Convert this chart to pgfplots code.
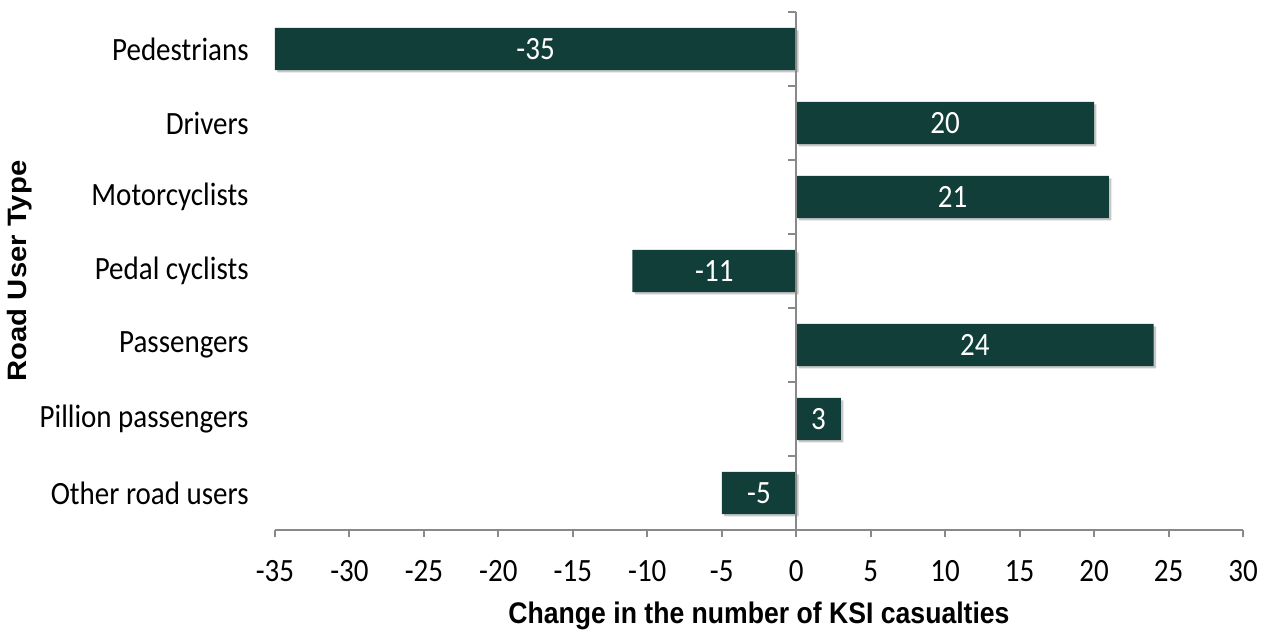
\documentclass[border=0pt]{standalone}
\usepackage{fontspec}
\setmainfont{Carlito}
\newfontfamily\titlefont{Liberation Sans}
\usepackage{graphicx}
\usepackage{pgfplots}
\usepackage{pgfplotstable}
\pgfplotsset{compat=1.18}
\usetikzlibrary{shadows}
\definecolor{barcol}{RGB}{18,62,57}
\definecolor{axisgray}{RGB}{137,137,137}

% Change in KSI casualties by road user type (row 0 at top)
\pgfplotstableread{
idx v
0 -35
1 20
2 21
3 -11
4 24
5 3
6 -5
}\ksi

\newcommand\lblfont{\fontsize{14.5}{17}\selectfont}
\newcommand\ttlfont{\titlefont\bfseries\fontsize{13.3}{15}\selectfont}
% slightly tall lettering
\newcommand\vs[1]{\scalebox{1}[1.12]{#1}}

\begin{document}
\begin{tikzpicture}[x=1pt,y=1pt]
\useasboundingbox (-137.5,-50) rectangle (497,265);
\begin{axis}[
  at={(0,0)}, anchor=south west,
  scale only axis, width=484pt, height=259pt,
  xmin=-35, xmax=30, ymin=-0.5, ymax=6.5, y dir=reverse,
  axis x line*=bottom, axis y line*=left,
  axis line style={-, axisgray, line width=1pt},
  y axis line style={draw=none},
  xtick={-35,-30,...,30},
  xticklabel={\vs{\pgfmathprintnumber{\tick}}},
  ytick={0,...,6},
  yticklabels={\vs{Pedestrians},\vs{Drivers},\vs{Motorcyclists},\vs{Pedal cyclists},\vs{Passengers},\vs{Pillion passengers},\vs{Other road users}},
  tick align=outside,
  x tick style={axisgray, line width=1pt},
  y tick style={draw=none},
  major tick length=3.5pt,
  /pgf/number format/assume math mode=true,
  xticklabel style={font=\lblfont, anchor=base, inner sep=0pt, yshift=-22pt},
  yticklabel style={font=\lblfont, anchor=east, inner sep=0pt, xshift=-9.5pt},
  xlabel={\vs{Change in the number of KSI casualties}},
  xlabel style={font=\ttlfont, at={(axis description cs:0.5,-0.1655)}, anchor=center},
  ylabel={\scalebox{1.1}[1]{Road User Type}},
  ylabel style={font=\ttlfont, at={(axis description cs:-0.2635,0.5)}, anchor=center},
  clip=false,
]
\addplot[xbar, bar width=0.57, fill=barcol, draw=none,
  drop shadow={shadow xshift=1.2pt, shadow yshift=-1.2pt, fill=black, opacity=0.22}]
  table[x=v, y=idx] {\ksi};
\addplot[draw=none, mark=none, point meta=explicit symbolic,
  nodes near coords={\vs{\pgfplotspointmeta}},
  every node near coord/.style={anchor=center, text=white, font=\lblfont}]
  table[x expr=\thisrow{v}/2, y=idx, meta=v] {\ksi};
\end{axis}
\begin{axis}[
  at={(0,0)}, anchor=south west,
  scale only axis, width=484pt, height=259pt,
  xmin=-35, xmax=30, ymin=-0.5, ymax=6.5,
  axis x line=none, axis y line=center,
  axis line style={-, axisgray, line width=1pt},
  ytick={-0.5,0.5,...,6.5}, yticklabels={},
  tick align=outside,
  y tick style={axisgray, line width=1pt},
  major tick length=4pt,
]
\end{axis}
\end{tikzpicture}
\end{document}
